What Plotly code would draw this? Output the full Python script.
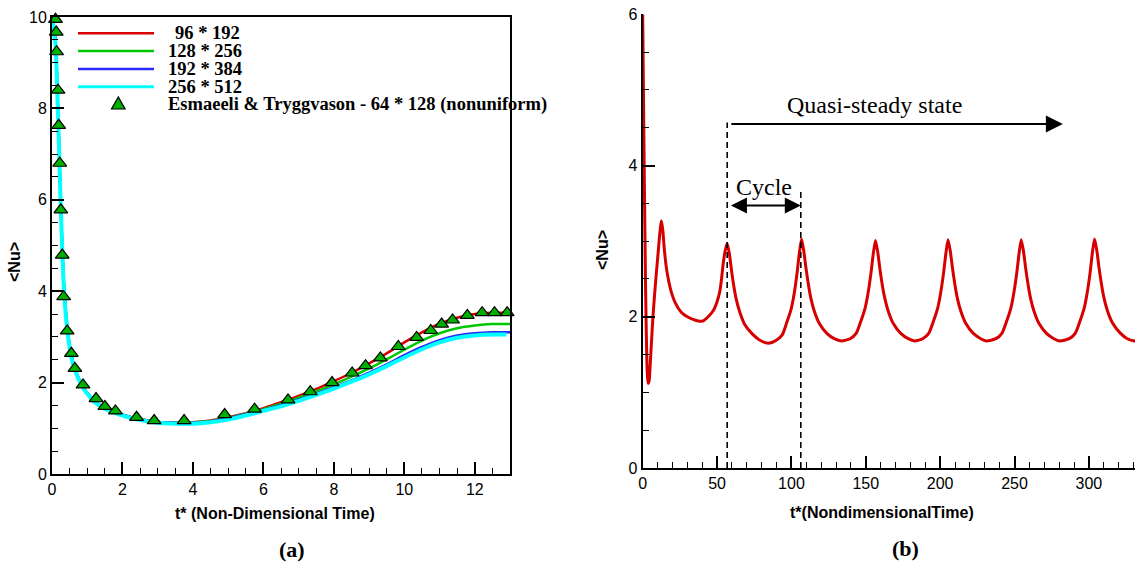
import plotly.graph_objects as go

# ---------------- data: panel (a) ----------------
t_red = [0, 0.1, 0.15, 0.2, 0.25, 0.3, 0.35, 0.45, 0.55, 0.7, 0.9, 1.2, 1.5, 2.0, 2.5, 3.0, 3.5, 4.0,
         4.5, 5.0, 5.5, 6.0, 6.5, 7.0, 7.5, 8.0, 8.5, 9.0, 9.5, 10.0, 10.5, 11.0, 11.5, 12.0, 12.5, 13.0]
nu_red = [10.0, 9.5, 8.5, 7.2, 5.9, 4.8, 4.0, 3.1, 2.6, 2.2, 1.88, 1.6, 1.45, 1.3, 1.2, 1.14, 1.12, 1.13,
          1.17, 1.24, 1.33, 1.44, 1.57, 1.71, 1.86, 2.03, 2.21, 2.42, 2.64, 2.88, 3.1, 3.29, 3.42, 3.5, 3.53, 3.53]
nu_green = [10.0, 9.5, 8.5, 7.2, 5.9, 4.8, 4.0, 3.1, 2.6, 2.2, 1.88, 1.6, 1.45, 1.3, 1.2, 1.14, 1.12, 1.13,
            1.16, 1.23, 1.32, 1.42, 1.54, 1.67, 1.81, 1.96, 2.13, 2.31, 2.51, 2.72, 2.92, 3.08, 3.19, 3.25, 3.28, 3.28]
nu_blue = [10.0, 9.5, 8.5, 7.2, 5.9, 4.8, 4.0, 3.1, 2.6, 2.2, 1.88, 1.6, 1.45, 1.3, 1.2, 1.14, 1.12, 1.12,
           1.15, 1.22, 1.31, 1.40, 1.51, 1.63, 1.76, 1.90, 2.05, 2.22, 2.40, 2.60, 2.78, 2.93, 3.03, 3.08, 3.10, 3.10]
t_cyan = [0, 0.1, 0.15, 0.2, 0.25, 0.3, 0.35, 0.45, 0.55, 0.7, 0.9, 1.2, 1.5, 2.0, 2.5, 3.0, 3.5, 4.0,
          4.5, 5.0, 5.5, 6.0, 6.5, 7.0, 7.5, 8.0, 8.5, 9.0, 9.5, 10.0, 10.5, 11.0, 11.5, 12.0, 12.5, 12.9]
nu_cyan = [10.0, 9.4, 8.4, 7.1, 5.8, 4.7, 3.9, 3.05, 2.55, 2.17, 1.86, 1.58, 1.43, 1.28, 1.18, 1.12, 1.10, 1.10,
           1.13, 1.19, 1.28, 1.38, 1.48, 1.60, 1.73, 1.87, 2.02, 2.18, 2.36, 2.55, 2.73, 2.88, 2.98, 3.03, 3.05, 3.05]

t_exp = [0.10, 0.12, 0.13, 0.17, 0.19, 0.22, 0.25, 0.29, 0.33, 0.43, 0.55, 0.65, 0.88, 1.25, 1.50, 1.80,
         2.40, 2.90, 3.75, 4.90, 5.75, 6.70, 7.33, 7.95, 8.52, 8.90, 9.32, 9.83, 10.35, 10.75, 11.06,
         11.37, 11.79, 12.21, 12.56, 12.92]
nu_exp = [9.95, 9.67, 9.24, 8.40, 7.63, 6.80, 5.78, 4.79, 3.88, 3.13, 2.64, 2.31, 1.95, 1.65, 1.48, 1.38,
          1.24, 1.17, 1.17, 1.30, 1.42, 1.62, 1.80, 2.00, 2.21, 2.37, 2.54, 2.79, 2.99, 3.14, 3.28,
          3.37, 3.47, 3.53, 3.53, 3.53]

legend_labels = ["96 * 192", "128 * 256", "192 * 384", "256 * 512",
                 "Esmaeeli & Tryggvason - 64 * 128 (nonuniform)"]

# ---------------- data: panel (b) ----------------
t_b = [0, 0.5, 1.0, 1.5, 2.0, 2.5, 3.0, 3.6, 4.3, 5.0, 6.0, 6.9, 8.5, 10.3, 11.5, 12.5, 13.5, 14.5, 15.9,
       17.5, 19.2, 22.0, 25.9, 30.0, 36.0, 38.5, 41.0, 44.0, 47.4, 50.0, 51.9, 53.0, 54.1, 55.5, 56.8,
       58.3, 59.8, 61.3, 62.8, 65.3, 68.8, 73.8, 78.8, 84.4, 89.8, 93.8, 96.8, 99.8, 101.8, 103.8, 105.3, 106.8,
       108.3, 109.8, 111.3, 112.8, 115.3, 118.8, 123.8, 128.8, 133.6, 139.5, 143.5, 146.5, 149.5, 151.5, 153.5, 155.0, 156.5,
       158.0, 159.5, 161.0, 162.5, 165.0, 168.5, 173.5, 178.5, 182.9, 188.3, 192.3, 195.3, 198.3, 200.3, 202.3, 203.8, 205.3,
       206.8, 208.3, 209.8, 211.3, 213.8, 217.3, 222.3, 227.3, 231.0, 237.5, 241.5, 244.5, 247.5, 249.5, 251.5, 253.0, 254.5,
       256.0, 257.5, 259.0, 260.5, 263.0, 266.5, 271.5, 276.5, 280.3, 286.8, 290.8, 293.8, 296.8, 298.8, 300.8, 302.3, 303.8,
       305.3, 306.8, 308.3, 309.8, 312.3, 315.8, 320.8, 325.8, 330.6, 333.0]
nu_b = [6.0, 5.0, 4.0, 3.1, 2.3, 1.7, 1.3, 1.12, 1.15, 1.35, 1.7, 2.0, 2.42, 2.83, 3.1, 3.27, 3.15, 2.9, 2.65,
        2.47, 2.33, 2.18, 2.06, 2.0, 1.95, 1.94, 1.95, 2.0, 2.08, 2.2, 2.34, 2.5, 2.7, 2.88, 2.97,
        2.83, 2.60, 2.40, 2.24, 2.06, 1.89, 1.77, 1.69, 1.65, 1.69, 1.76, 1.92, 2.10, 2.30, 2.58, 2.84, 3.03,
        2.87, 2.64, 2.44, 2.27, 2.08, 1.91, 1.78, 1.71, 1.68, 1.71, 1.78, 1.93, 2.11, 2.31, 2.58, 2.83, 3.01,
        2.86, 2.63, 2.43, 2.27, 2.08, 1.91, 1.78, 1.71, 1.68, 1.71, 1.78, 1.93, 2.11, 2.31, 2.58, 2.83, 3.02,
        2.87, 2.64, 2.44, 2.27, 2.08, 1.91, 1.78, 1.71, 1.68, 1.71, 1.78, 1.93, 2.11, 2.31, 2.58, 2.83, 3.02,
        2.87, 2.64, 2.44, 2.27, 2.08, 1.91, 1.78, 1.71, 1.68, 1.71, 1.78, 1.93, 2.11, 2.31, 2.58, 2.84, 3.03,
        2.88, 2.65, 2.45, 2.28, 2.09, 1.92, 1.79, 1.71, 1.68, 1.68]

# annotation anchors for panel (b) (data units)
cycle_start = 56.8
cycle_end = 106.3
dash1_top = 4.57
dash2_top = 3.65
quasi_y = 4.55
quasi_x0 = 58.6
quasi_x1 = 282.5
cycle_y = 3.47

# ---------------- layout helpers ----------------
W, H = 1137, 566


def px(x):
    return x / W


def py(y):
    return 1 - y / H


SANS = "Liberation Sans, Arial"
SERIF = "Liberation Serif, Times New Roman"

fig = go.Figure()

# panel (a) curves
fig.add_trace(go.Scatter(x=t_red, y=nu_red, mode="lines", line=dict(color="#d80000", width=2.5, shape="spline", smoothing=0.5),
                         xaxis="x", yaxis="y", showlegend=False))
fig.add_trace(go.Scatter(x=t_red, y=nu_green, mode="lines", line=dict(color="#00c800", width=2.5, shape="spline", smoothing=0.5),
                         xaxis="x", yaxis="y", showlegend=False))
fig.add_trace(go.Scatter(x=t_red, y=nu_blue, mode="lines", line=dict(color="#2828ff", width=2.5, shape="spline", smoothing=0.5),
                         xaxis="x", yaxis="y", showlegend=False))
fig.add_trace(go.Scatter(x=t_cyan, y=nu_cyan, mode="lines", line=dict(color="#00ffff", width=4, shape="spline", smoothing=0.5),
                         xaxis="x", yaxis="y", showlegend=False))
fig.add_trace(go.Scatter(x=t_exp, y=nu_exp, mode="markers", cliponaxis=False,
                         marker=dict(symbol="triangle-up", size=12, color="#00b000",
                                     line=dict(color="black", width=1.2)),
                         xaxis="x", yaxis="y", showlegend=False))

# panel (b) curve
fig.add_trace(go.Scatter(x=t_b, y=nu_b, mode="lines",
                         line=dict(color="#d60000", width=3, shape="spline", smoothing=0.6),
                         xaxis="x2", yaxis="y2", showlegend=False))

axis_common = dict(showgrid=False, zeroline=False, showline=True, linecolor="black", linewidth=2,
                   ticks="inside", ticklen=12, tickwidth=2, tickcolor="black", automargin=False,
                   tickfont=dict(family=SANS, size=16, color="black"))

fig.update_layout(
    width=W, height=H, margin=dict(l=0, r=0, t=0, b=0, pad=0, autoexpand=False),
    paper_bgcolor="white", plot_bgcolor="white",
    xaxis=dict(domain=[px(52), px(510)], range=[0, 13], dtick=2, tick0=0, mirror=True, anchor="y",
               minor=dict(dtick=0.5, ticklen=6, tickwidth=1, ticks="inside", tickcolor="black"),
               **axis_common),
    yaxis=dict(domain=[py(474), py(17)], range=[0, 10], dtick=2, tick0=0, mirror=True, anchor="x",
               minor=dict(dtick=0.5, ticklen=6, tickwidth=1, ticks="inside", tickcolor="black"),
               **axis_common),
    xaxis2=dict(domain=[px(642.7), px(1135)], range=[0, 331], dtick=50, tick0=0, anchor="y2",
                minor=dict(dtick=10, ticklen=6, tickwidth=1, ticks="inside", tickcolor="black"),
                **axis_common),
    yaxis2=dict(domain=[py(468), py(14.3)], range=[0, 6], dtick=2, tick0=0, anchor="x2",
                minor=dict(dtick=0.5, ticklen=6, tickwidth=1, ticks="inside", tickcolor="black"),
                **axis_common),
)

shapes = []
annotations = []

# legend (panel a), drawn as layout decoration
leg_colors = ["#d80000", "#00c800", "#2828ff", "#00ffff"]
leg_widths = [2.5, 2.5, 2.5, 3]
leg_y = [33.3, 51.0, 69.0, 86.7, 104.5]
for i, c in enumerate(leg_colors):
    shapes.append(dict(type="line", xref="paper", yref="paper", x0=px(78), x1=px(154),
                       y0=py(leg_y[i]), y1=py(leg_y[i]), line=dict(color=c, width=leg_widths[i])))
# triangle symbol
tx, ty = 118.3, 104.5
path = "M {:.5f} {:.5f} L {:.5f} {:.5f} L {:.5f} {:.5f} Z".format(
    px(tx - 6.8), py(ty + 4.5), px(tx + 6.8), py(ty + 4.5), px(tx), py(ty - 7.5))
shapes.append(dict(type="path", xref="paper", yref="paper", path=path,
                   fillcolor="#00b000", line=dict(color="black", width=1.2)))
leg_x = [173, 166, 166, 166, 166]
for i, lab in enumerate(legend_labels):
    annotations.append(dict(text="<b>%s</b>" % lab.replace("&", "&amp;"), xref="paper", yref="paper",
                            x=px(leg_x[i]), y=py(leg_y[i]), xanchor="left", yanchor="middle",
                            showarrow=False, font=dict(family=SERIF, size=18.5, color="black")))


def label(text, x, y, family, size, angle=0):
    return dict(text=text, x=px(x), y=py(y), xref="paper", yref="paper", xanchor="center",
                yanchor="middle", textangle=angle, showarrow=False,
                font=dict(family=family, size=size, color="black"))


# axis titles and panel labels
annotations += [
    label("<b>t* (Non-Dimensional Time)</b>", 275, 513, SANS, 16),
    label("<b>&lt;Nu&gt;</b>", 14, 262, SANS, 16, -90),
    label("<b>(a)</b>", 292, 549, SERIF, 22),
    label("<b>t*(NondimensionalTime)</b>", 882, 512, SANS, 16),
    label("<b>&lt;Nu&gt;</b>", 602, 250, SANS, 16, -90),
    label("<b>(b)</b>", 905, 548, SERIF, 22),
]

# panel (b) annotations
shapes.append(dict(type="line", xref="x2", yref="y2", x0=cycle_start, x1=cycle_start, y0=0, y1=dash1_top,
                   line=dict(color="black", width=1.6, dash="6px,4px")))
shapes.append(dict(type="line", xref="x2", yref="y2", x0=cycle_end, x1=cycle_end, y0=0, y1=dash2_top,
                   line=dict(color="black", width=1.6, dash="6px,4px")))
annotations.append(dict(x=quasi_x1, y=quasi_y, ax=quasi_x0, ay=quasi_y, xref="x2", yref="y2",
                        axref="x2", ayref="y2", text="", showarrow=True, arrowhead=2, arrowsize=1.7,
                        arrowwidth=2, arrowcolor="black"))
annotations.append(dict(x=(quasi_x0 + quasi_x1) / 2 - 15, y=quasi_y, xref="x2", yref="y2",
                        text="Quasi-steady state", showarrow=False, xanchor="center", yanchor="bottom", yshift=4,
                        font=dict(family=SERIF, size=24, color="black")))
annotations.append(dict(x=cycle_end, y=cycle_y, ax=cycle_start + 1.5, ay=cycle_y, xref="x2", yref="y2",
                        axref="x2", ayref="y2", text="", showarrow=True, arrowhead=2, startarrowhead=2,
                        arrowside="end+start", arrowsize=1.6, startarrowsize=1.6,
                        arrowwidth=2, arrowcolor="black"))
annotations.append(dict(x=(cycle_start + cycle_end) / 2, y=cycle_y, xref="x2", yref="y2",
                        text="Cycle", showarrow=False, xanchor="center", yanchor="bottom", yshift=4,
                        font=dict(family=SERIF, size=24, color="black")))

fig.update_layout(shapes=shapes, annotations=annotations)
fig.write_html("out.html")
